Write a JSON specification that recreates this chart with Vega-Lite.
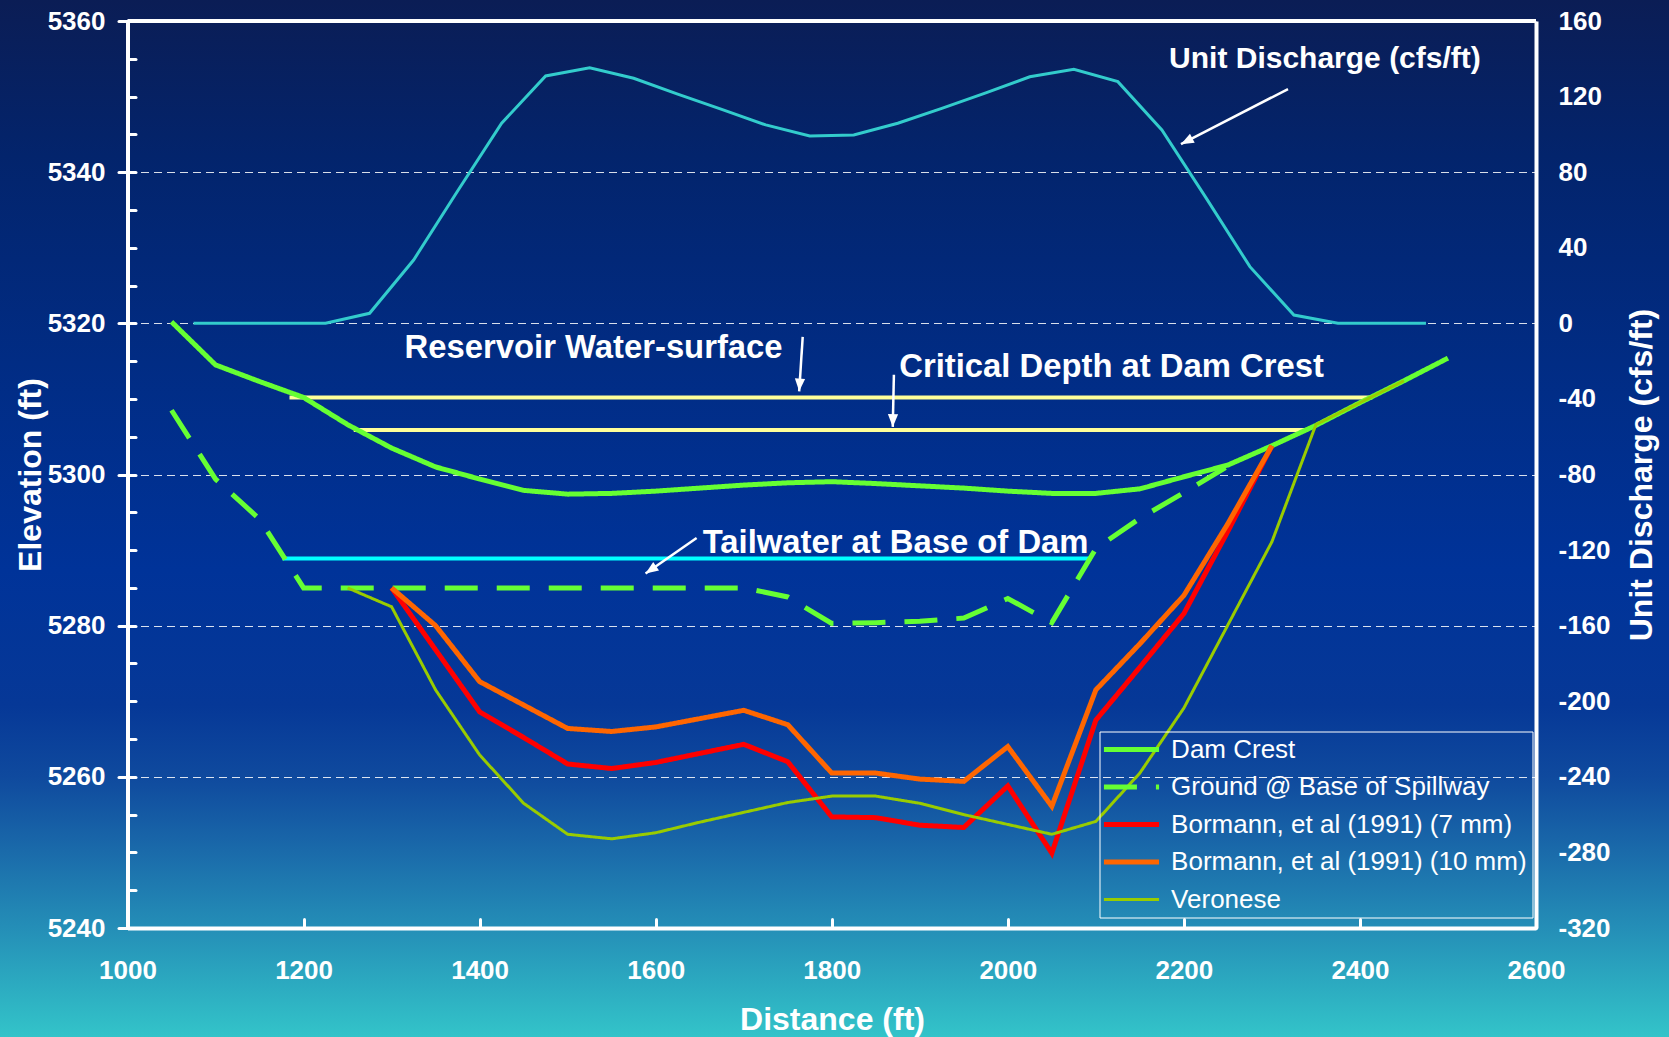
{
  "$schema": "https://vega.github.io/schema/vega-lite/v6.json",
  "width": 1669,
  "height": 1037,
  "autosize": {"type": "none"},
  "padding": 0,
  "background": "#0b2370",
  "config": {
    "view": {
      "stroke": null,
      "fill": {
        "gradient": "linear", "x1": 0, "y1": 0, "x2": 0, "y2": 1,
        "stops": [
          {"offset": 0, "color": "#0b1d55"},
          {"offset": 0.15, "color": "#03246c"},
          {"offset": 0.35, "color": "#012c84"},
          {"offset": 0.55, "color": "#003399"},
          {"offset": 0.68, "color": "#063897"},
          {"offset": 0.75, "color": "#0f4a9e"},
          {"offset": 0.82, "color": "#1a6aaa"},
          {"offset": 0.9, "color": "#2591b8"},
          {"offset": 1, "color": "#33c4c9"}
        ]
      }
    },
    "font": "Liberation Sans",
    "axis": {"labelFont": "Liberation Sans", "titleFont": "Liberation Sans"},
    "legend": {"labelFont": "Liberation Sans"}
  },
  "datasets": {
    "lines": [
      {"series": "Dam Crest", "d": 1050, "e": 5320.2},
      {"series": "Dam Crest", "d": 1100, "e": 5314.5},
      {"series": "Dam Crest", "d": 1150, "e": 5312.3},
      {"series": "Dam Crest", "d": 1200, "e": 5310.2},
      {"series": "Dam Crest", "d": 1250, "e": 5306.6},
      {"series": "Dam Crest", "d": 1300, "e": 5303.5},
      {"series": "Dam Crest", "d": 1350, "e": 5301.0},
      {"series": "Dam Crest", "d": 1400, "e": 5299.4},
      {"series": "Dam Crest", "d": 1450, "e": 5297.9},
      {"series": "Dam Crest", "d": 1500, "e": 5297.4},
      {"series": "Dam Crest", "d": 1550, "e": 5297.5},
      {"series": "Dam Crest", "d": 1600, "e": 5297.8},
      {"series": "Dam Crest", "d": 1650, "e": 5298.2},
      {"series": "Dam Crest", "d": 1700, "e": 5298.6},
      {"series": "Dam Crest", "d": 1750, "e": 5298.9},
      {"series": "Dam Crest", "d": 1800, "e": 5299.05},
      {"series": "Dam Crest", "d": 1850, "e": 5298.8},
      {"series": "Dam Crest", "d": 1900, "e": 5298.5},
      {"series": "Dam Crest", "d": 1950, "e": 5298.2},
      {"series": "Dam Crest", "d": 2000, "e": 5297.8},
      {"series": "Dam Crest", "d": 2050, "e": 5297.5},
      {"series": "Dam Crest", "d": 2100, "e": 5297.5},
      {"series": "Dam Crest", "d": 2150, "e": 5298.1},
      {"series": "Dam Crest", "d": 2200, "e": 5299.7},
      {"series": "Dam Crest", "d": 2250, "e": 5301.25},
      {"series": "Dam Crest", "d": 2300, "e": 5303.8},
      {"series": "Dam Crest", "d": 2350, "e": 5306.5},
      {"series": "Dam Crest", "d": 2400, "e": 5309.5},
      {"series": "Dam Crest", "d": 2450, "e": 5312.4},
      {"series": "Dam Crest", "d": 2500, "e": 5315.4},
      {"series": "Ground @ Base of Spillway", "d": 1050, "e": 5308.5},
      {"series": "Ground @ Base of Spillway", "d": 1100, "e": 5299.4},
      {"series": "Ground @ Base of Spillway", "d": 1150, "e": 5294.1},
      {"series": "Ground @ Base of Spillway", "d": 1200, "e": 5285.0},
      {"series": "Ground @ Base of Spillway", "d": 1250, "e": 5285.0},
      {"series": "Ground @ Base of Spillway", "d": 1300, "e": 5285.0},
      {"series": "Ground @ Base of Spillway", "d": 1350, "e": 5285.0},
      {"series": "Ground @ Base of Spillway", "d": 1400, "e": 5285.0},
      {"series": "Ground @ Base of Spillway", "d": 1450, "e": 5285.0},
      {"series": "Ground @ Base of Spillway", "d": 1500, "e": 5285.0},
      {"series": "Ground @ Base of Spillway", "d": 1550, "e": 5285.0},
      {"series": "Ground @ Base of Spillway", "d": 1600, "e": 5285.0},
      {"series": "Ground @ Base of Spillway", "d": 1650, "e": 5285.0},
      {"series": "Ground @ Base of Spillway", "d": 1700, "e": 5285.0},
      {"series": "Ground @ Base of Spillway", "d": 1750, "e": 5283.8},
      {"series": "Ground @ Base of Spillway", "d": 1800, "e": 5280.3},
      {"series": "Ground @ Base of Spillway", "d": 1850, "e": 5280.4},
      {"series": "Ground @ Base of Spillway", "d": 1900, "e": 5280.6},
      {"series": "Ground @ Base of Spillway", "d": 1950, "e": 5281.0},
      {"series": "Ground @ Base of Spillway", "d": 2000, "e": 5283.6},
      {"series": "Ground @ Base of Spillway", "d": 2050, "e": 5280.4},
      {"series": "Ground @ Base of Spillway", "d": 2100, "e": 5290.2},
      {"series": "Ground @ Base of Spillway", "d": 2150, "e": 5294.2},
      {"series": "Ground @ Base of Spillway", "d": 2200, "e": 5297.6},
      {"series": "Ground @ Base of Spillway", "d": 2250, "e": 5301.1},
      {"series": "Bormann, et al (1991) (7 mm)", "d": 1300, "e": 5285.0},
      {"series": "Bormann, et al (1991) (7 mm)", "d": 1350, "e": 5276.8},
      {"series": "Bormann, et al (1991) (7 mm)", "d": 1400, "e": 5268.6},
      {"series": "Bormann, et al (1991) (7 mm)", "d": 1450, "e": 5265.2},
      {"series": "Bormann, et al (1991) (7 mm)", "d": 1500, "e": 5261.7},
      {"series": "Bormann, et al (1991) (7 mm)", "d": 1550, "e": 5261.1},
      {"series": "Bormann, et al (1991) (7 mm)", "d": 1600, "e": 5261.9},
      {"series": "Bormann, et al (1991) (7 mm)", "d": 1650, "e": 5263.1},
      {"series": "Bormann, et al (1991) (7 mm)", "d": 1700, "e": 5264.3},
      {"series": "Bormann, et al (1991) (7 mm)", "d": 1750, "e": 5262.0},
      {"series": "Bormann, et al (1991) (7 mm)", "d": 1800, "e": 5254.7},
      {"series": "Bormann, et al (1991) (7 mm)", "d": 1850, "e": 5254.6},
      {"series": "Bormann, et al (1991) (7 mm)", "d": 1900, "e": 5253.6},
      {"series": "Bormann, et al (1991) (7 mm)", "d": 1950, "e": 5253.3},
      {"series": "Bormann, et al (1991) (7 mm)", "d": 2000, "e": 5258.8},
      {"series": "Bormann, et al (1991) (7 mm)", "d": 2050, "e": 5249.9},
      {"series": "Bormann, et al (1991) (7 mm)", "d": 2100, "e": 5267.5},
      {"series": "Bormann, et al (1991) (7 mm)", "d": 2150, "e": 5274.5},
      {"series": "Bormann, et al (1991) (7 mm)", "d": 2200, "e": 5281.6},
      {"series": "Bormann, et al (1991) (7 mm)", "d": 2250, "e": 5292.5},
      {"series": "Bormann, et al (1991) (7 mm)", "d": 2300, "e": 5303.8},
      {"series": "Bormann, et al (1991) (10 mm)", "d": 1300, "e": 5285.0},
      {"series": "Bormann, et al (1991) (10 mm)", "d": 1350, "e": 5280.0},
      {"series": "Bormann, et al (1991) (10 mm)", "d": 1400, "e": 5272.6},
      {"series": "Bormann, et al (1991) (10 mm)", "d": 1450, "e": 5269.5},
      {"series": "Bormann, et al (1991) (10 mm)", "d": 1500, "e": 5266.4},
      {"series": "Bormann, et al (1991) (10 mm)", "d": 1550, "e": 5266.0},
      {"series": "Bormann, et al (1991) (10 mm)", "d": 1600, "e": 5266.6},
      {"series": "Bormann, et al (1991) (10 mm)", "d": 1650, "e": 5267.7},
      {"series": "Bormann, et al (1991) (10 mm)", "d": 1700, "e": 5268.8},
      {"series": "Bormann, et al (1991) (10 mm)", "d": 1750, "e": 5266.9},
      {"series": "Bormann, et al (1991) (10 mm)", "d": 1800, "e": 5260.5},
      {"series": "Bormann, et al (1991) (10 mm)", "d": 1850, "e": 5260.5},
      {"series": "Bormann, et al (1991) (10 mm)", "d": 1900, "e": 5259.7},
      {"series": "Bormann, et al (1991) (10 mm)", "d": 1950, "e": 5259.4},
      {"series": "Bormann, et al (1991) (10 mm)", "d": 2000, "e": 5264.0},
      {"series": "Bormann, et al (1991) (10 mm)", "d": 2050, "e": 5256.1},
      {"series": "Bormann, et al (1991) (10 mm)", "d": 2100, "e": 5271.5},
      {"series": "Bormann, et al (1991) (10 mm)", "d": 2150, "e": 5277.6},
      {"series": "Bormann, et al (1991) (10 mm)", "d": 2200, "e": 5284.0},
      {"series": "Bormann, et al (1991) (10 mm)", "d": 2250, "e": 5293.5},
      {"series": "Bormann, et al (1991) (10 mm)", "d": 2300, "e": 5303.8},
      {"series": "Veronese", "d": 1250, "e": 5285.0},
      {"series": "Veronese", "d": 1300, "e": 5282.5},
      {"series": "Veronese", "d": 1350, "e": 5271.5},
      {"series": "Veronese", "d": 1400, "e": 5262.9},
      {"series": "Veronese", "d": 1450, "e": 5256.5},
      {"series": "Veronese", "d": 1500, "e": 5252.4},
      {"series": "Veronese", "d": 1550, "e": 5251.8},
      {"series": "Veronese", "d": 1600, "e": 5252.6},
      {"series": "Veronese", "d": 1650, "e": 5254.0},
      {"series": "Veronese", "d": 1700, "e": 5255.3},
      {"series": "Veronese", "d": 1750, "e": 5256.6},
      {"series": "Veronese", "d": 1800, "e": 5257.45},
      {"series": "Veronese", "d": 1850, "e": 5257.45},
      {"series": "Veronese", "d": 1900, "e": 5256.5},
      {"series": "Veronese", "d": 1950, "e": 5255.0},
      {"series": "Veronese", "d": 2000, "e": 5253.7},
      {"series": "Veronese", "d": 2050, "e": 5252.4},
      {"series": "Veronese", "d": 2100, "e": 5254.1},
      {"series": "Veronese", "d": 2150, "e": 5260.5},
      {"series": "Veronese", "d": 2200, "e": 5269.1},
      {"series": "Veronese", "d": 2250, "e": 5280.1},
      {"series": "Veronese", "d": 2300, "e": 5291.1},
      {"series": "Veronese", "d": 2350, "e": 5306.6},
      {"series": "Veronese", "d": 2400, "e": 5309.5},
      {"series": "Veronese", "d": 2450, "e": 5312.4}
    ],
    "discharge": [
      {"d": 1075, "q": 0}, {"d": 1125, "q": 0}, {"d": 1175, "q": 0}, {"d": 1225, "q": 0},
      {"d": 1275, "q": 5.3}, {"d": 1325, "q": 33.5}, {"d": 1375, "q": 70}, {"d": 1425, "q": 105.9},
      {"d": 1475, "q": 130.9}, {"d": 1525, "q": 135.3}, {"d": 1575, "q": 129.7}, {"d": 1625, "q": 121.3},
      {"d": 1675, "q": 113.2}, {"d": 1725, "q": 105}, {"d": 1775, "q": 99.1}, {"d": 1825, "q": 99.7},
      {"d": 1875, "q": 105.9}, {"d": 1925, "q": 113.8}, {"d": 1975, "q": 122}, {"d": 2025, "q": 130.5},
      {"d": 2075, "q": 134.4}, {"d": 2125, "q": 127.9}, {"d": 2175, "q": 102.3}, {"d": 2225, "q": 66.5},
      {"d": 2275, "q": 30}, {"d": 2325, "q": 4.4}, {"d": 2375, "q": 0}, {"d": 2425, "q": 0}, {"d": 2475, "q": 0}
    ],
    "levels": [
      {"name": "Reservoir Water-surface", "d1": 1184, "d2": 2414, "e": 5310.2},
      {"name": "Critical Depth at Dam Crest", "d1": 1257, "d2": 2340, "e": 5305.9},
      {"name": "Tailwater at Base of Dam", "d1": 1176, "d2": 2095, "e": 5288.9}
    ],
    "arrows": [
      {"id": "Unit Discharge", "d": 2318.3, "e": 5351.0, "d2": 2196.7, "e2": 5343.7, "angle": 242.5},
      {"id": "Reservoir", "d": 1767, "e": 5318.2, "d2": 1763, "e2": 5311.0, "angle": 183.6},
      {"id": "Critical", "d": 1870.6, "e": 5313.2, "d2": 1869.3, "e2": 5306.3, "angle": 181.2},
      {"id": "Tailwater", "d": 1646.5, "e": 5291.6, "d2": 1588.5, "e2": 5286.9, "angle": 235.5}
    ],
    "labels": [
      {"text": "Unit Discharge (cfs/ft)", "d": 2183.2, "e": 5353.8},
      {"text": "Reservoir Water-surface", "d": 1314.8, "e": 5315.4},
      {"text": "Critical Depth at Dam Crest", "d": 1876.7, "e": 5312.9},
      {"text": "Tailwater at Base of Dam", "d": 1653.4, "e": 5289.6}
    ]
  },
  "layer": [
    {
      "data": {"name": "discharge"},
      "mark": {"type": "line", "color": "#33cccc", "strokeWidth": 3},
      "encoding": {
        "x": {
          "field": "d", "type": "quantitative",
          "scale": {"domain": [1000, 2600], "range": [127.5, 1536], "nice": false, "zero": false},
          "axis": {
            "orient": "bottom", "offset": -109,
            "values": [1000, 1200, 1400, 1600, 1800, 2000, 2200, 2400, 2600],
            "labelExpr": "datum.value + ''",
            "grid": false, "domainColor": "white", "domainWidth": 4,
            "tickColor": "white", "tickWidth": 3, "tickSize": -9, "tickCap": "round",
            "labelPadding": 38, "labelFontSize": 26, "labelFontWeight": "bold", "labelColor": "white",
            "labelFlush": false, "labelOverlap": false,
            "title": "Distance (ft)", "titleFontSize": 32, "titleFontWeight": "bold", "titleColor": "white",
            "titleX": 832, "titleY": 101.6, "titleAlign": "center", "titleBaseline": "alphabetic"
          }
        },
        "y": {
          "field": "q", "type": "quantitative",
          "scale": {"domain": [-320, 160], "range": [928, 21], "nice": false, "zero": false},
          "axis": {
            "orient": "right", "offset": -133,
            "values": [-320, -280, -240, -200, -160, -120, -80, -40, 0, 40, 80, 120, 160],
            "labelExpr": "datum.value + ''",
            "grid": false, "ticks": false,
            "domainColor": "white", "domainWidth": 4,
            "labelPadding": 22, "labelFontSize": 26, "labelFontWeight": "bold", "labelColor": "white",
            "labelAlign": "left", "labelBaseline": "middle", "labelFlush": false, "labelOverlap": false,
            "title": "Unit Discharge (cfs/ft)", "titleFontSize": 32, "titleFontWeight": "bold", "titleColor": "white",
            "titleAngle": 270, "titleX": 105, "titleY": 474.5, "titleAlign": "center", "titleBaseline": "middle"
          }
        }
      }
    },
    {
      "data": {"name": "levels"},
      "mark": {"type": "rule", "strokeWidth": 4},
      "encoding": {
        "x": {"field": "d1", "type": "quantitative", "scale": {"domain": [1000, 2600], "range": [127.5, 1536], "nice": false, "zero": false}},
        "x2": {"field": "d2"},
        "y": {
          "field": "e", "type": "quantitative",
          "scale": {"domain": [5240, 5360], "range": [928, 21], "nice": false, "zero": false},
          "axis": {
            "orient": "left", "offset": -127.5,
            "values": [5240, 5245, 5250, 5255, 5260, 5265, 5270, 5275, 5280, 5285, 5290, 5295, 5300, 5305, 5310, 5315, 5320, 5325, 5330, 5335, 5340, 5345, 5350, 5355, 5360],
            "labels": false, "domain": false, "grid": false, "title": null,
            "tickSize": -8, "tickWidth": 3, "tickColor": "white", "tickCap": "round"
          }
        },
        "color": {"condition": {"test": "datum.name === 'Tailwater at Base of Dam'", "value": "#00ffff"}, "value": "#ffff99"}
      }
    },
    {
      "data": {"name": "lines"},
      "mark": {"type": "line"},
      "encoding": {
        "x": {"field": "d", "type": "quantitative", "scale": {"domain": [1000, 2600], "range": [127.5, 1536], "nice": false, "zero": false}},
        "y": {
          "field": "e", "type": "quantitative",
          "scale": {"domain": [5240, 5360], "range": [928, 21], "nice": false, "zero": false},
          "axis": {
            "orient": "left", "offset": -127.5,
            "values": [5240, 5260, 5280, 5300, 5320, 5340, 5360],
            "labelExpr": "datum.value + ''",
            "grid": true, "gridColor": "white", "gridDash": [8, 5], "gridWidth": 1, "gridOpacity": 0.85,
            "domainColor": "white", "domainWidth": 4,
            "tickColor": "white", "tickWidth": 3, "tickSize": 9, "tickCap": "round",
            "labelPadding": 13.5, "labelFontSize": 26, "labelFontWeight": "bold", "labelColor": "white",
            "labelFlush": false, "labelOverlap": false,
            "title": "Elevation (ft)", "titleFontSize": 32, "titleFontWeight": "bold", "titleColor": "white",
            "titleAngle": 270, "titleX": -97, "titleY": 474.5, "titleAlign": "center", "titleBaseline": "middle"
          }
        },
        "color": {
          "field": "series", "type": "nominal",
          "scale": {
            "domain": ["Dam Crest", "Ground @ Base of Spillway", "Bormann, et al (1991) (7 mm)", "Bormann, et al (1991) (10 mm)", "Veronese"],
            "range": ["#66ff33", "#66ff33", "#ff0000", "#ff6600", "#99cc00"]
          },
          "legend": {
            "title": null, "orient": "none", "legendX": 1099.5, "legendY": 731.5,
            "strokeColor": "white", "padding": 5,
            "symbolType": "M-1.47,0H1.47", "symbolSize": 1406, "symbolOffset": 14, "symbolStrokeWidth": 5,
            "labelOffset": 26.6, "labelFontSize": 26, "labelColor": "white", "labelLimit": 600,
            "rowPadding": 11.5,
            "encode": {"symbols": {"update": {"strokeWidth": {"signal": "datum.value === 'Veronese' ? 3 : 5"}}}}
          }
        },
        "strokeDash": {
          "field": "series", "type": "nominal",
          "scale": {
            "domain": ["Dam Crest", "Ground @ Base of Spillway", "Bormann, et al (1991) (7 mm)", "Bormann, et al (1991) (10 mm)", "Veronese"],
            "range": [[1, 0], [33, 19], [1, 0], [1, 0], [1, 0]]
          },
          "legend": {
            "title": null, "orient": "none", "legendX": 1099.5, "legendY": 731.5,
            "strokeColor": "white", "padding": 5,
            "symbolType": "M-1.47,0H1.47", "symbolSize": 1406, "symbolOffset": 14, "symbolStrokeWidth": 5,
            "labelOffset": 26.6, "labelFontSize": 26, "labelColor": "white", "labelLimit": 600,
            "rowPadding": 11.5
          }
        },
        "strokeWidth": {"condition": {"test": "datum.series === 'Veronese'", "value": 3}, "value": 5}
      }
    },
    {
      "data": {"name": "arrows"},
      "mark": {"type": "rule", "color": "white", "strokeWidth": 2.5},
      "encoding": {
        "x": {"field": "d", "type": "quantitative", "scale": {"domain": [1000, 2600], "range": [127.5, 1536], "nice": false, "zero": false}},
        "x2": {"field": "d2"},
        "y": {"field": "e", "type": "quantitative", "scale": {"domain": [5240, 5360], "range": [928, 21], "nice": false, "zero": false}, "axis": null},
        "y2": {"field": "e2"}
      }
    },
    {
      "data": {"name": "arrows"},
      "mark": {"type": "point", "shape": "M0,0L-0.5,1.25L0.5,1.25Z", "filled": true, "color": "white", "opacity": 1, "size": 420, "strokeWidth": 0},
      "encoding": {
        "x": {"field": "d2", "type": "quantitative", "scale": {"domain": [1000, 2600], "range": [127.5, 1536], "nice": false, "zero": false}},
        "y": {"field": "e2", "type": "quantitative", "scale": {"domain": [5240, 5360], "range": [928, 21], "nice": false, "zero": false}, "axis": null},
        "angle": {"field": "angle", "type": "quantitative", "scale": null}
      }
    },
    {
      "data": {"name": "labels"},
      "mark": {"type": "text", "align": "left", "baseline": "alphabetic", "font": "Liberation Sans", "fontWeight": "bold", "color": "white"},
      "encoding": {
        "x": {"field": "d", "type": "quantitative", "scale": {"domain": [1000, 2600], "range": [127.5, 1536], "nice": false, "zero": false}},
        "y": {"field": "e", "type": "quantitative", "scale": {"domain": [5240, 5360], "range": [928, 21], "nice": false, "zero": false}, "axis": null},
        "text": {"field": "text"},
        "size": {"condition": {"test": "datum.text === 'Unit Discharge (cfs/ft)'", "value": 30}, "value": 32.8}
      }
    },
    {
      "data": {"values": [{}]},
      "mark": {"type": "rule", "color": "white", "strokeWidth": 4},
      "encoding": {
        "x": {"datum": 1000, "type": "quantitative", "scale": {"domain": [1000, 2600], "range": [127.5, 1536], "nice": false, "zero": false}},
        "x2": {"datum": 2600},
        "y": {"datum": 5360, "type": "quantitative", "scale": {"domain": [5240, 5360], "range": [928, 21], "nice": false, "zero": false}, "axis": null}
      }
    }
  ],
  "resolve": {"scale": {"y": "independent"}, "axis": {"y": "independent"}}
}
